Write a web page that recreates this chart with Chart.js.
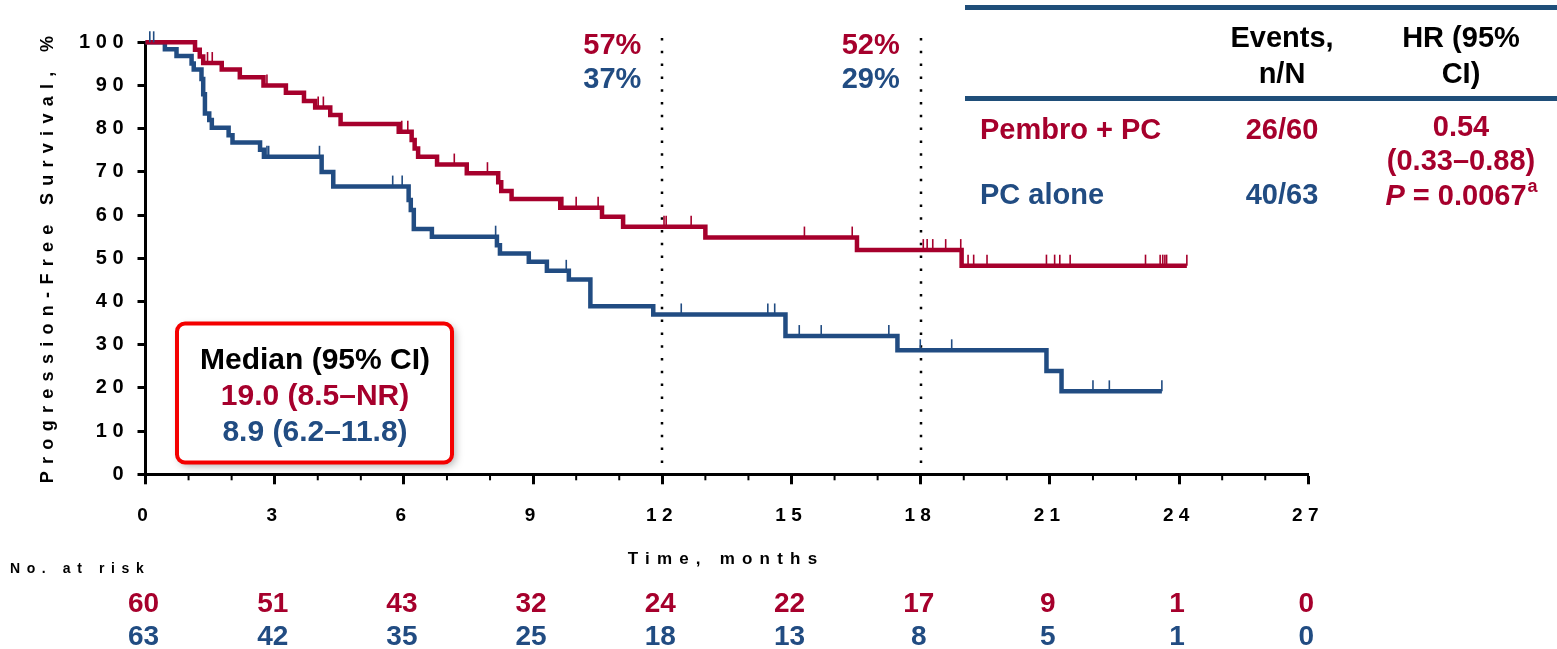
<!DOCTYPE html>
<html>
<head>
<meta charset="utf-8">
<title>Progression-Free Survival</title>
<script src="https://cdn.jsdelivr.net/npm/chart.js@4.4.1/dist/chart.umd.min.js"></script>
<style>
  html, body { margin: 0; padding: 0; background: #ffffff; }
  #wrap { position: relative; width: 1557px; height: 649px; }
</style>
</head>
<body>
<div id="wrap"><canvas id="km" width="1557" height="649"></canvas></div>
<script>
// ---- Kaplan-Meier step data (time in months, survival in %) ----
const pembroTimes = [0, 1.15, 1.26, 1.34, 1.77, 2.19, 2.74, 3.26, 3.68, 3.94, 4.29, 4.53, 5.88, 6.18, 6.25, 6.33, 6.77, 7.46, 8.19, 8.26, 8.50, 9.63, 10.60, 11.09, 13.00, 16.52, 18.95, 24.18];
const pembroSurv  = [100, 98.3, 96.7, 95.2, 93.7, 91.9, 90.0, 88.3, 86.4, 84.9, 83.2, 81.1, 79.3, 77.4, 75.4, 73.5, 71.7, 69.7, 67.6, 65.6, 63.7, 61.7, 59.6, 57.3, 54.8, 51.9, 48.3, 48.3];
const pembroCensored = [1.44, 1.55, 2.82, 4.01, 4.13, 5.95, 6.09, 7.17, 7.94, 9.69, 10.00, 10.51, 12.04, 12.09, 12.67, 15.30, 16.41, 18.06, 18.15, 18.28, 18.58, 18.93, 19.10, 19.23, 19.54, 20.92, 21.11, 21.23, 21.47, 23.22, 23.56, 23.62, 23.67, 23.71, 24.18];

const pcTimes = [0, 0.45, 0.72, 1.07, 1.12, 1.30, 1.34, 1.38, 1.48, 1.54, 1.93, 2.02, 2.66, 2.75, 4.09, 4.36, 6.11, 6.16, 6.23, 6.65, 8.16, 8.23, 8.90, 9.32, 9.83, 10.33, 11.79, 14.86, 17.46, 20.92, 21.27, 23.60];
const pcSurv  = [100, 98.4, 96.8, 95.1, 93.7, 91.5, 88.0, 83.5, 82.0, 80.2, 78.5, 76.8, 75.1, 73.5, 70.0, 66.6, 63.5, 61.2, 56.8, 55.0, 53.0, 51.1, 49.2, 47.1, 45.1, 38.9, 37.0, 32.0, 28.7, 23.9, 19.2, 19.2];
const pcCensored = [0.10, 0.19, 1.35, 2.82, 2.86, 4.04, 5.74, 5.96, 8.13, 9.77, 12.44, 14.45, 14.61, 15.18, 15.69, 17.26, 17.99, 18.72, 20.94, 22.00, 22.38, 23.60];

// ---- axes, landmarks, risk table ----
const monthTicks = [0, 3, 6, 9, 12, 15, 18, 21, 24, 27];
const survivalTicks = [0, 10, 20, 30, 40, 50, 60, 70, 80, 90, 100];
const landmarkMonths = [12, 18];
const landmarkPembro = ['57%', '52%'];
const landmarkPc = ['37%', '29%'];
const atRiskPembro = [60, 51, 43, 32, 24, 22, 17, 9, 1, 0];
const atRiskPc = [63, 42, 35, 25, 18, 13, 8, 5, 1, 0];

const RED = '#A6002C';
const BLUE = '#214C82';
const FAMILY = '"Liberation Sans", Arial, sans-serif';

// survival value of a step curve at time t (value after all events up to t)
function stepValue(times, surv, t) {
  let v = surv[0];
  for (let i = 0; i < times.length; i++) { if (times[i] <= t) v = surv[i]; }
  return v;
}
const spaced = v => String(v).split('').join(' ');

function text(ctx, s, x, y, font, color, align, spacing) {
  ctx.save();
  ctx.font = font;
  ctx.fillStyle = color;
  ctx.textAlign = align || 'center';
  ctx.textBaseline = 'middle';
  ctx.letterSpacing = spacing || '0px';
  ctx.fillText(s, x, y);
  ctx.restore();
}

const kmExtras = {
  id: 'kmExtras',
  beforeDatasetsDraw(chart) {
    const { ctx, scales: { x, y } } = chart;
    ctx.save();
    ctx.strokeStyle = '#000';
    ctx.lineWidth = 2.5;
    ctx.setLineDash([2.5, 10.3]);
    landmarkMonths.forEach(m => {
      const px = Math.round(x.getPixelForValue(m));
      ctx.beginPath();
      ctx.moveTo(px, y.getPixelForValue(101));
      ctx.lineTo(px, y.getPixelForValue(0));
      ctx.stroke();
    });
    ctx.restore();
  },
  afterDatasetsDraw(chart) {
    const { ctx, scales: { x, y } } = chart;
    const marks = (list, times, surv, color) => {
      ctx.save();
      ctx.strokeStyle = color;
      ctx.lineWidth = 1.6;
      list.forEach(t => {
        const px = x.getPixelForValue(t);
        const py = y.getPixelForValue(stepValue(times, surv, t));
        ctx.beginPath();
        ctx.moveTo(px, py);
        ctx.lineTo(px, py - 11);
        ctx.stroke();
      });
      ctx.restore();
    };
    marks(pembroCensored, pembroTimes, pembroSurv, RED);
    marks(pcCensored, pcTimes, pcSurv, BLUE);
  },
  afterDraw(chart) {
    const { ctx, scales: { x, y } } = chart;
    const base = y.getPixelForValue(0);

    // minor month ticks
    ctx.save();
    ctx.strokeStyle = '#000';
    ctx.lineWidth = 2;
    for (let m = 1; m < 27; m++) {
      if (m % 3 === 0) continue;
      const px = x.getPixelForValue(m);
      ctx.beginPath();
      ctx.moveTo(px, base);
      ctx.lineTo(px, base + 6);
      ctx.stroke();
    }
    ctx.restore();

    // axis titles
    ctx.save();
    ctx.translate(48, 259);
    ctx.rotate(-Math.PI / 2);
    text(ctx, 'Progression-Free Survival, %', 3, 0, 'bold 18px ' + FAMILY, '#000', 'center', '7.3px');
    ctx.restore();
    text(ctx, 'Time, months', 726, 559, 'bold 17px ' + FAMILY, '#000', 'center', '7.2px');
    text(ctx, 'No. at risk', 10, 569, 'bold 14px ' + FAMILY, '#000', 'left', '6.6px');

    // landmark percentages
    landmarkMonths.forEach((m, i) => {
      const px = x.getPixelForValue(m) - 21;
      text(ctx, landmarkPembro[i], px, 46, 'bold 29px ' + FAMILY, RED, 'right');
      text(ctx, landmarkPc[i], px, 80, 'bold 29px ' + FAMILY, BLUE, 'right');
    });

    // number at risk
    monthTicks.forEach((m, i) => {
      const px = x.getPixelForValue(m);
      text(ctx, String(atRiskPembro[i]), px - 2, 604, 'bold 28px ' + FAMILY, RED, 'center');
      text(ctx, String(atRiskPc[i]), px - 2, 637, 'bold 28px ' + FAMILY, BLUE, 'center');
    });

    // hazard ratio table
    ctx.save();
    ctx.fillStyle = '#1F4E79';
    ctx.fillRect(965, 5, 592, 5);
    ctx.fillRect(965, 96, 592, 5);
    ctx.restore();
    const hf = 'bold 29px ' + FAMILY;
    text(ctx, 'Events,', 1282, 39, hf, '#000');
    text(ctx, 'n/N', 1282, 75, hf, '#000');
    text(ctx, 'HR (95%', 1461, 39, hf, '#000');
    text(ctx, 'CI)', 1461, 75, hf, '#000');
    text(ctx, 'Pembro + PC', 980, 131, hf, RED, 'left');
    text(ctx, 'PC alone', 980, 196, hf, BLUE, 'left');
    text(ctx, '26/60', 1282, 131, hf, RED);
    text(ctx, '40/63', 1282, 196, hf, BLUE);
    text(ctx, '0.54', 1461, 128, hf, RED);
    text(ctx, '(0.33\u20130.88)', 1461, 162, hf, RED);
    ctx.save();
    const pf = 'italic bold 29px ' + FAMILY, sf = 'bold 18px ' + FAMILY;
    ctx.font = pf; const wP = ctx.measureText('P').width;
    ctx.font = hf; const wV = ctx.measureText(' = 0.0067').width;
    ctx.font = sf; const wA = ctx.measureText('a').width;
    ctx.restore();
    let sx = 1461 - (wP + wV + wA) / 2;
    text(ctx, 'P', sx, 197, pf, RED, 'left'); sx += wP;
    text(ctx, ' = 0.0067', sx, 197, hf, RED, 'left'); sx += wV;
    text(ctx, 'a', sx + 1, 187, sf, RED, 'left');

    // median box
    ctx.save();
    const bx = 177, by = 323.5, bw = 275, bh = 139, r = 8;
    ctx.beginPath();
    ctx.roundRect(bx, by, bw, bh, r);
    ctx.shadowColor = 'rgba(0,0,0,0.35)';
    ctx.shadowBlur = 8;
    ctx.shadowOffsetX = 3;
    ctx.shadowOffsetY = 3;
    ctx.fillStyle = '#fff';
    ctx.fill();
    ctx.shadowColor = 'transparent';
    ctx.lineWidth = 4;
    ctx.strokeStyle = '#F40000';
    ctx.stroke();
    ctx.restore();
    const mf = 'bold 30px ' + FAMILY;
    text(ctx, 'Median (95% CI)', 315, 361, mf, '#000');
    text(ctx, '19.0 (8.5\u2013NR)', 315, 397, mf, RED);
    text(ctx, '8.9 (6.2\u201311.8)', 315, 433, mf, BLUE);
  }
};

const toPoints = (times, surv) => times.map((t, i) => ({ x: t, y: surv[i] }));

new Chart(document.getElementById('km'), {
  type: 'line',
  data: {
    datasets: [
      { label: 'Pembro + PC', data: toPoints(pembroTimes, pembroSurv), stepped: 'before',
        borderColor: RED, borderWidth: 4.5, pointRadius: 0, fill: false, clip: 10 },
      { label: 'PC alone', data: toPoints(pcTimes, pcSurv), stepped: 'before',
        borderColor: BLUE, borderWidth: 4.5, pointRadius: 0, fill: false, clip: 10 }
    ]
  },
  options: {
    responsive: false,
    animation: false,
    devicePixelRatio: 1,
    layout: { padding: { top: 42.3, right: 248.7, left: 0, bottom: 0 } },
    plugins: { legend: { display: false }, tooltip: { enabled: false } },
    scales: {
      x: {
        type: 'linear', min: 0, max: 27,
        afterFit(s) { s.height = 174.7; },
        afterBuildTicks(s) { s.ticks = monthTicks.map(v => ({ value: v })); },
        ticks: { autoSkip: false, maxRotation: 0, color: '#000', padding: 20, labelOffset: -3,
                 font: { family: FAMILY, size: 19, weight: 'bold' }, callback: v => spaced(v) },
        grid: { drawOnChartArea: false, drawTicks: true, tickLength: 10, tickWidth: 3, tickColor: '#000' },
        border: { display: true, color: '#000', width: 3 }
      },
      y: {
        min: 0, max: 100,
        afterFit(s) { s.width = 145.5; },
        afterBuildTicks(s) { s.ticks = survivalTicks.map(v => ({ value: v })); },
        ticks: { color: '#000', padding: 14,
                 font: { family: FAMILY, size: 20, weight: 'bold' }, callback: v => spaced(v) },
        grid: { drawOnChartArea: false, drawTicks: true, tickLength: 8, tickWidth: 3, tickColor: '#000' },
        border: { display: true, color: '#000', width: 3 }
      }
    }
  },
  plugins: [kmExtras]
});
</script>
</body>
</html>
